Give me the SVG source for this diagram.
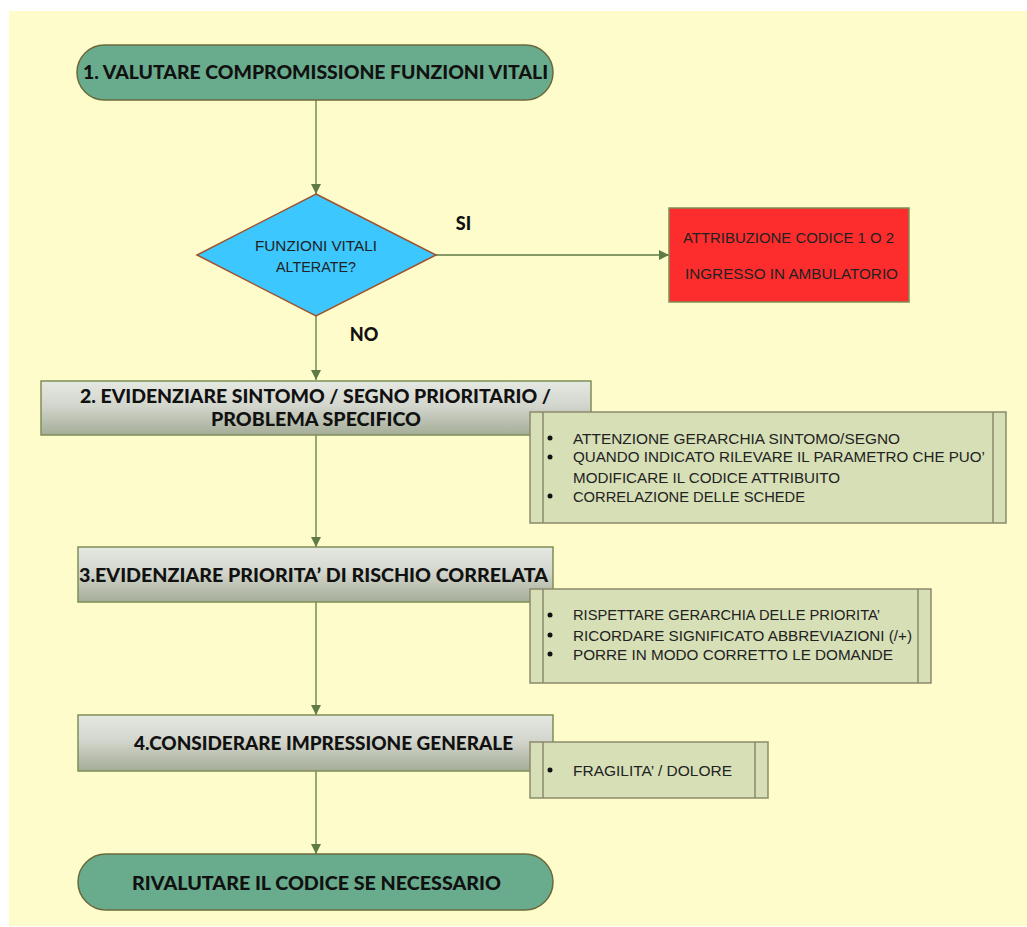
<svg xmlns="http://www.w3.org/2000/svg" width="1027" height="927" viewBox="0 0 1027 927">
<defs>
<linearGradient id="gbox" x1="0" y1="0" x2="0" y2="1">
<stop offset="0" stop-color="#e6e8e3"/>
<stop offset="0.45" stop-color="#d3d6cd"/>
<stop offset="1" stop-color="#a5ad98"/>
</linearGradient>
<marker id="arr" viewBox="0 0 10 10" refX="10" refY="5" markerWidth="10" markerHeight="10" markerUnits="userSpaceOnUse" orient="auto">
<path d="M0,0 L10,5 L0,10 z" fill="#5e7a45"/>
</marker>
<style>
.bg{fill:#fffccc}
.stad{fill:#69ac8d;stroke:#6b6a3c;stroke-width:1.5}
.box{fill:url(#gbox);stroke:#7e8e55;stroke-width:1.5}
.note{fill:#d6dfb6;stroke:#8a8a6c;stroke-width:1.5}
.conn{stroke:#5e7a45;stroke-width:1.3;fill:none}
.hd{font-family:"Lato","Liberation Sans",sans-serif;font-weight:900;font-size:18px;fill:#111}
.tx{font-family:"Liberation Sans",sans-serif;font-size:15px;fill:#222}
.bul{fill:#111}
</style>
</defs>
<rect x="0" y="0" width="1027" height="927" fill="#ffffff"/>
<rect class="bg" x="9" y="11" width="1018" height="915"/>

<g id="connectors">
<line class="conn" x1="316" y1="100" x2="316" y2="194" marker-end="url(#arr)"/>
<line class="conn" x1="436" y1="255" x2="669" y2="255" marker-end="url(#arr)"/>
<line class="conn" x1="316" y1="316" x2="316" y2="380" marker-end="url(#arr)"/>
<line class="conn" x1="316" y1="435" x2="316" y2="547" marker-end="url(#arr)"/>
<line class="conn" x1="316" y1="602" x2="316" y2="715" marker-end="url(#arr)"/>
<line class="conn" x1="316" y1="771" x2="316" y2="854" marker-end="url(#arr)"/>
<text class="hd" x="463.5" y="230" text-anchor="middle" font-size="16">SI</text>
<text class="hd" x="364" y="341" text-anchor="middle" font-size="16">NO</text>
</g>

<g id="n1">
<rect class="stad" x="77" y="45" width="476" height="55" rx="27.5"/>
<text class="hd" x="315.5" y="79" text-anchor="middle" textLength="465" lengthAdjust="spacingAndGlyphs">1. VALUTARE COMPROMISSIONE FUNZIONI VITALI</text>
</g>

<g id="decision">
<polygon points="316,194 436,255 316,316 197,255" fill="#3cc8ff" stroke="#a0522d" stroke-width="1.5"/>
<text class="tx" x="316" y="250.5" text-anchor="middle" textLength="122" lengthAdjust="spacingAndGlyphs">FUNZIONI VITALI</text>
<text class="tx" x="316" y="271.5" text-anchor="middle" textLength="80" lengthAdjust="spacingAndGlyphs">ALTERATE?</text>
</g>

<g id="red">
<rect x="669" y="208" width="240" height="94" fill="#fe2d2d" stroke="#7e8e55" stroke-width="1.5"/>
<text class="tx" x="788.5" y="242.5" text-anchor="middle" textLength="211" lengthAdjust="spacingAndGlyphs">ATTRIBUZIONE CODICE 1 O 2</text>
<text class="tx" x="791.5" y="278.5" text-anchor="middle" textLength="213" lengthAdjust="spacingAndGlyphs">INGRESSO IN AMBULATORIO</text>
</g>

<g id="n2">
<rect class="box" x="41" y="381" width="550" height="54"/>
<text class="hd" x="315.5" y="402.5" text-anchor="middle" textLength="471" lengthAdjust="spacingAndGlyphs">2. EVIDENZIARE SINTOMO / SEGNO PRIORITARIO /</text>
<text class="hd" x="316" y="425.5" text-anchor="middle" textLength="210" lengthAdjust="spacingAndGlyphs">PROBLEMA SPECIFICO</text>
</g>

<g id="note1">
<rect class="note" x="530" y="412" width="476" height="111"/>
<line class="note" x1="543" y1="412" x2="543" y2="523"/>
<line class="note" x1="993" y1="412" x2="993" y2="523"/>
<circle class="bul" cx="550" cy="438" r="2.5"/>
<circle class="bul" cx="550" cy="457" r="2.5"/>
<circle class="bul" cx="550" cy="496" r="2.5"/>
<text class="tx" x="573" y="443.5" textLength="327" lengthAdjust="spacingAndGlyphs">ATTENZIONE GERARCHIA SINTOMO/SEGNO</text>
<text class="tx" x="573" y="461.5" textLength="412" lengthAdjust="spacingAndGlyphs">QUANDO INDICATO RILEVARE IL PARAMETRO CHE PUO’</text>
<text class="tx" x="573" y="482.5" textLength="267" lengthAdjust="spacingAndGlyphs">MODIFICARE IL CODICE ATTRIBUITO</text>
<text class="tx" x="573" y="501.5" textLength="232" lengthAdjust="spacingAndGlyphs">CORRELAZIONE DELLE SCHEDE</text>
</g>

<g id="n3">
<rect class="box" x="78" y="547" width="475" height="55"/>
<text class="hd" x="313.5" y="581.5" text-anchor="middle" textLength="469" lengthAdjust="spacingAndGlyphs">3.EVIDENZIARE PRIORITA’ DI RISCHIO CORRELATA</text>
</g>

<g id="note2">
<rect class="note" x="530" y="589" width="401" height="94"/>
<line class="note" x1="543" y1="589" x2="543" y2="683"/>
<line class="note" x1="918" y1="589" x2="918" y2="683"/>
<circle class="bul" cx="550" cy="615" r="2.5"/>
<circle class="bul" cx="550" cy="635" r="2.5"/>
<circle class="bul" cx="550" cy="654" r="2.5"/>
<text class="tx" x="573" y="619.5" textLength="307" lengthAdjust="spacingAndGlyphs">RISPETTARE GERARCHIA DELLE PRIORITA’</text>
<text class="tx" x="573" y="640.5" textLength="339" lengthAdjust="spacingAndGlyphs">RICORDARE SIGNIFICATO ABBREVIAZIONI (/+)</text>
<text class="tx" x="573" y="659.5" textLength="320" lengthAdjust="spacingAndGlyphs">PORRE IN MODO CORRETTO LE DOMANDE</text>
</g>

<g id="n4">
<rect class="box" x="78" y="715" width="475" height="56"/>
<text class="hd" x="323.5" y="749.5" text-anchor="middle" textLength="379" lengthAdjust="spacingAndGlyphs">4.CONSIDERARE IMPRESSIONE GENERALE</text>
</g>

<g id="note3">
<rect class="note" x="530" y="742" width="238" height="56"/>
<line class="note" x1="543" y1="742" x2="543" y2="798"/>
<line class="note" x1="755" y1="742" x2="755" y2="798"/>
<circle class="bul" cx="550" cy="770" r="2.5"/>
<text class="tx" x="573" y="775.5" textLength="159" lengthAdjust="spacingAndGlyphs">FRAGILITA’ / DOLORE</text>
</g>

<g id="n5">
<rect class="stad" x="78" y="854" width="475" height="56" rx="28"/>
<text class="hd" x="316.5" y="889.5" text-anchor="middle" textLength="369" lengthAdjust="spacingAndGlyphs">RIVALUTARE IL CODICE SE NECESSARIO</text>
</g>
</svg>
